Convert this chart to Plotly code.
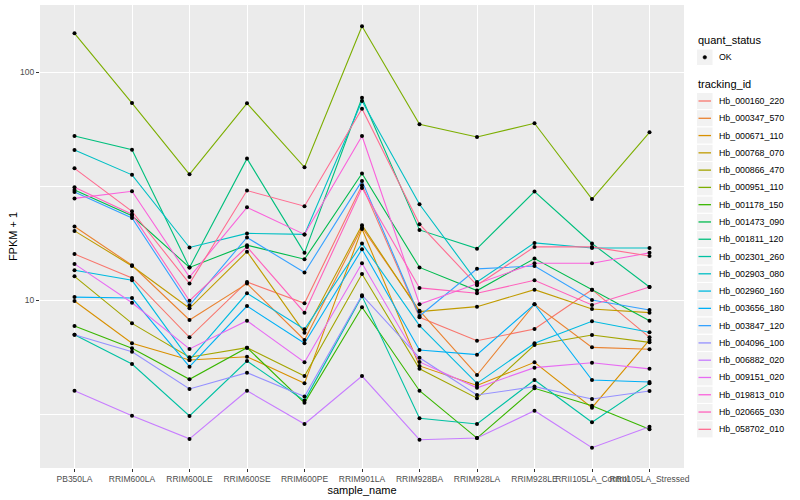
import plotly.graph_objects as go

samples = ["PB350LA", "RRIM600LA", "RRIM600LE", "RRIM600SE", "RRIM600PE", "RRIM901LA",
           "RRIM928BA", "RRIM928LA", "RRIM928LE", "RRII105LA_Control", "RRII105LA_Stressed"]

# FPKM + 1 values
hb_000160_220 = [15.9, 12.5, 6.86, 12.0, 9.67, 31.9, 8.40, 6.63, 7.46, 11.1, 6.86]
hb_000347_570 = [21.0, 14.2, 8.17, 11.8, 6.68, 20.8, 8.98, 4.69, 9.58, 6.20, 6.08]
hb_000671_110 = [9.90, 6.46, 5.46, 5.64, 4.31, 20.5, 5.14, 4.22, 5.33, 3.37, 6.68]
hb_000768_070 = [20.1, 14.1, 9.20, 16.3, 7.19, 21.3, 8.89, 9.35, 11.1, 9.13, 8.80]
hb_000866_470 = [12.7, 7.90, 5.61, 6.18, 4.64, 13.0, 4.99, 3.71, 6.35, 7.02, 6.52]
hb_000951_110 = [147.8, 73.1, 35.6, 72.9, 38.2, 158.7, 59.0, 51.9, 59.6, 27.7, 54.4]
hb_001178_150 = [7.69, 6.14, 4.49, 6.18, 3.54, 9.29, 4.00, 2.48, 4.10, 3.44, 2.71]
hb_001473_090 = [30.4, 23.4, 13.9, 17.4, 15.1, 35.9, 13.9, 11.0, 15.2, 11.1, 8.11]
hb_001811_120 = [52.4, 45.6, 13.9, 41.7, 16.1, 77.1, 20.3, 16.8, 29.9, 17.7, 11.4]
hb_002301_260 = [7.04, 5.24, 3.10, 5.40, 3.62, 10.4, 3.03, 2.86, 4.46, 2.91, 4.31]
hb_002903_080 = [45.5, 35.4, 17.0, 19.6, 19.4, 74.6, 26.3, 12.0, 17.8, 16.9, 16.9]
hb_002960_160 = [13.5, 12.2, 5.46, 10.7, 7.44, 17.7, 7.72, 4.31, 6.46, 8.07, 7.22]
hb_003656_180 = [10.3, 10.2, 5.10, 9.41, 6.46, 16.7, 6.04, 5.76, 9.58, 4.46, 4.37]
hb_003847_120 = [29.8, 22.9, 9.48, 18.8, 13.2, 33.3, 8.51, 13.7, 14.1, 10.0, 9.04]
hb_004096_100 = [7.04, 5.93, 4.07, 4.80, 3.77, 10.5, 5.58, 3.83, 4.17, 3.68, 3.99]
hb_006882_020 = [4.00, 3.11, 2.46, 4.00, 2.86, 4.64, 2.44, 2.48, 3.27, 2.25, 2.78]
hb_009151_020 = [14.4, 9.73, 6.10, 8.11, 5.33, 14.5, 5.35, 4.12, 5.05, 5.31, 4.99]
hb_019813_010 = [27.9, 30.0, 12.6, 25.5, 19.4, 52.4, 9.58, 11.8, 14.5, 14.5, 16.1]
hb_020665_030 = [31.2, 23.8, 9.93, 17.1, 8.80, 31.0, 11.3, 10.7, 12.2, 9.51, 11.4]
hb_058702_010 = [37.8, 24.5, 11.8, 30.2, 25.8, 69.0, 21.5, 11.6, 17.1, 17.1, 15.6]

tracking_ids = ["Hb_000160_220", "Hb_000347_570", "Hb_000671_110", "Hb_000768_070",
                "Hb_000866_470", "Hb_000951_110", "Hb_001178_150", "Hb_001473_090",
                "Hb_001811_120", "Hb_002301_260", "Hb_002903_080", "Hb_002960_160",
                "Hb_003656_180", "Hb_003847_120", "Hb_004096_100", "Hb_006882_020",
                "Hb_009151_020", "Hb_019813_010", "Hb_020665_030", "Hb_058702_010"]
series_values = [hb_000160_220, hb_000347_570, hb_000671_110, hb_000768_070,
                 hb_000866_470, hb_000951_110, hb_001178_150, hb_001473_090,
                 hb_001811_120, hb_002301_260, hb_002903_080, hb_002960_160,
                 hb_003656_180, hb_003847_120, hb_004096_100, hb_006882_020,
                 hb_009151_020, hb_019813_010, hb_020665_030, hb_058702_010]
palette = ["#F8766D", "#EA8331", "#D89000", "#C09B00", "#A3A500", "#7CAE00", "#39B600",
           "#00BB4E", "#00BF7D", "#00C1A3", "#00BFC4", "#00BAE0", "#00B0F6", "#35A2FF",
           "#9590FF", "#C77CFF", "#E76BF3", "#FA62DB", "#FF62BC", "#FF6C91"]
y_ticks = [10, 100]
y_minor = [3.1623, 31.623]

FONT = "Liberation Sans, Arial, Helvetica, sans-serif"
W, H = 800, 500
PL, PR, PT, PB = 40, 684, 5, 468

fig = go.Figure()
for name, vals, col in zip(tracking_ids, series_values, palette):
    fig.add_trace(go.Scatter(x=samples, y=vals, mode="lines", name=name,
                             line=dict(color=col, width=1.1), showlegend=False))
for name, vals in zip(tracking_ids, series_values):
    fig.add_trace(go.Scatter(x=samples, y=vals, mode="markers", name=name,
                             marker=dict(color="black", size=4), showlegend=False))

fig.update_layout(
    width=W, height=H,
    margin=dict(l=PL, r=W - PR, t=PT, b=H - PB, pad=0),
    paper_bgcolor="white", plot_bgcolor="#EBEBEB",
    font=dict(family=FONT, color="black"),
)
fig.update_xaxes(type="category", range=[-0.6, 10.6], showgrid=True, gridcolor="white",
                 gridwidth=1.1, zeroline=False, showline=False, ticks="outside", ticklen=3,
                 tickcolor="#333333", tickwidth=1, tickfont=dict(size=8.5, color="#4D4D4D"),
                 tickangle=0,
                 title=dict(text="sample_name", font=dict(size=11, color="black"), standoff=2))
fig.update_yaxes(type="log", range=[0.2632, 2.2939], tickvals=y_ticks,
                 ticktext=[str(v) for v in y_ticks], showgrid=True, gridcolor="white",
                 gridwidth=1.1, zeroline=False, showline=False, ticks="outside", ticklen=3,
                 tickcolor="#333333", tickwidth=1, tickfont=dict(size=8.5, color="#4D4D4D"),
                 minor=dict(tickvals=y_minor, showgrid=True, gridcolor="white", gridwidth=0.5,
                            ticks=""),
                 title=dict(text="FPKM + 1", font=dict(size=11, color="black"), standoff=0))


def px_x(px):
    return (px - PL) / (PR - PL)


def px_y(py):
    return (PB - py) / (PB - PT)


shapes = []
annotations = []
# quant_status legend
annotations.append(dict(x=px_x(696), y=px_y(40.5), xref="paper", yref="paper", text="quant_status",
                        showarrow=False, xanchor="left", yanchor="middle",
                        font=dict(size=11, color="black", family=FONT)))
shapes.append(dict(type="rect", xref="paper", yref="paper", x0=px_x(696.5), x1=px_x(713),
                   y0=px_y(49), y1=px_y(65.5), fillcolor="#F2F2F2", line=dict(color="white", width=1)))
shapes.append(dict(type="circle", xref="paper", yref="paper", x0=px_x(703), x1=px_x(706.6),
                   y0=px_y(55.5), y1=px_y(59.1), fillcolor="black", line=dict(color="black", width=0.5)))
annotations.append(dict(x=px_x(716.5), y=px_y(57.3), xref="paper", yref="paper", text="OK",
                        showarrow=False, xanchor="left", yanchor="middle",
                        font=dict(size=8.8, color="black", family=FONT)))
annotations.append(dict(x=px_x(696), y=px_y(84.5), xref="paper", yref="paper", text="tracking_id",
                        showarrow=False, xanchor="left", yanchor="middle",
                        font=dict(size=11, color="black", family=FONT)))
for i, (name, col) in enumerate(zip(tracking_ids, palette)):
    cy = 101 + i * 17.28
    shapes.append(dict(type="rect", xref="paper", yref="paper", x0=px_x(696.5), x1=px_x(713),
                       y0=px_y(cy - 8.6), y1=px_y(cy + 8.6), fillcolor="#F2F2F2",
                       line=dict(color="white", width=1), layer="below"))
    shapes.append(dict(type="line", xref="paper", yref="paper", x0=px_x(698.5), x1=px_x(711),
                       y0=px_y(cy), y1=px_y(cy), line=dict(color=col, width=1.3)))
    annotations.append(dict(x=px_x(716.5), y=px_y(cy), xref="paper", yref="paper", text=name,
                            showarrow=False, xanchor="left", yanchor="middle",
                            font=dict(size=8.8, color="black", family=FONT)))

fig.update_layout(shapes=shapes, annotations=annotations)

fig.write_html("out.html", include_plotlyjs=True, full_html=True,
               config={"displayModeBar": False},
               post_script="document.body.style.margin='0';")
